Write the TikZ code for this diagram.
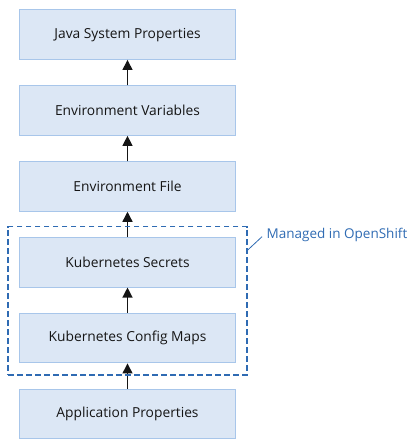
\documentclass[tikz,border=0pt]{standalone}
\usepackage{fontspec}
\setmainfont{Open Sans}
\usetikzlibrary{arrows.meta}
\definecolor{boxfill}{HTML}{DCE7F5}
\definecolor{boxline}{HTML}{A8C6EA}
\definecolor{dashblue}{HTML}{2F6BB3}
\definecolor{txt}{HTML}{151515}
\tikzset{
  layer/.style={draw=boxline, line width=1pt, fill=boxfill, minimum width=216pt, minimum height=49.5pt, inner sep=0pt, text=txt, font=\fontsize{13.8}{15}\selectfont},
  upar/.style={-{Triangle[length=10pt,width=10pt]}, line width=1.3pt, draw=txt, fill=txt},
  managed/.style={draw=dashblue, line width=1.4pt, dash pattern=on 5.5pt off 3.5pt},
}
\begin{document}
\begin{tikzpicture}[x=1pt,y=-1pt]
\useasboundingbox (0,0) rectangle (417,447);
\node[layer] (java) at (127.5,34.7) {Java System Properties};
\node[layer] (env) at (127.5,110.6) {Environment Variables};
\node[layer] (file) at (127.5,186.5) {Environment File};
\node[layer] (sec) at (127.5,262.3) {Kubernetes Secrets};
\node[layer] (cm) at (127.5,338.2) {Kubernetes Config Maps};
\node[layer] (app) at (127.5,414.0) {Application Properties};
\draw[upar] (env.north) -- (java.south);
\draw[upar] (file.north) -- (env.south);
\draw[upar] (sec.north) -- (file.south);
\draw[upar] (cm.north) -- (sec.south);
\draw[upar] (app.north) -- (cm.south);
\node[managed, inner sep=0pt, minimum width=239pt, minimum height=148.3pt] (grp) at (127.5,300.8) {};
\coordinate (lblend) at (262,236.7);
\draw[dashblue, line width=0.8pt] (247,250.7) -- (lblend);
\node[anchor=west, text=dashblue, inner sep=0pt, font=\fontsize{13.5}{15}\selectfont] (lbl) at (266.5,235) {Managed in OpenShift};
\end{tikzpicture}
\end{document}
